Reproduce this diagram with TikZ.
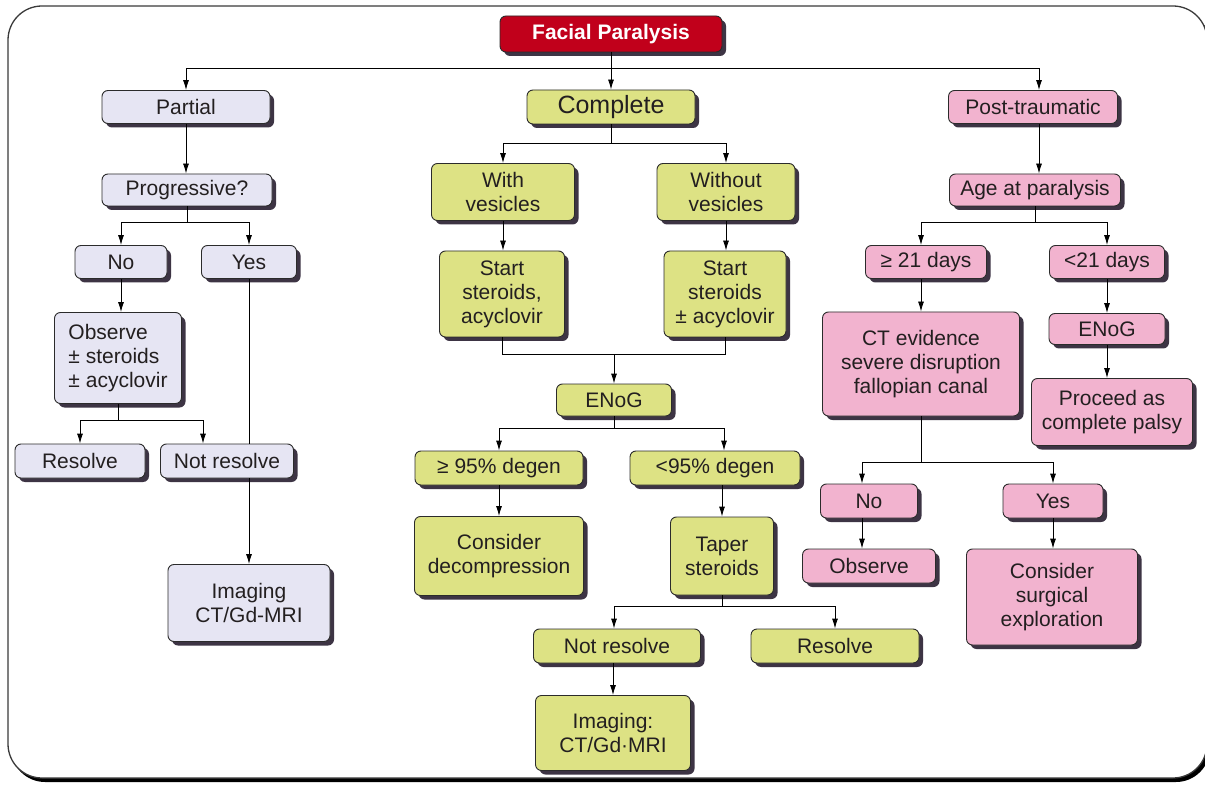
\documentclass[tikz,border=0pt]{standalone}
\usepackage{fontspec}
\setmainfont{Liberation Sans}
\usetikzlibrary{arrows.meta,shadows}

\definecolor{lavc}{HTML}{E6E5F3}
\definecolor{yelc}{HTML}{DDE284}
\definecolor{pnkc}{HTML}{F2B3CF}
\definecolor{redc}{HTML}{C1001B}
\definecolor{shadc}{HTML}{3D3444}
\definecolor{linec}{HTML}{2B2B2B}
\definecolor{textc}{HTML}{231F20}
\definecolor{framec}{HTML}{3A3A3A}

\tikzset{
    box/.style={draw=linec, line width=0.9pt, rounded corners=6pt, text=textc,
        align=center, inner sep=2pt, font=\fontsize{21}{24}\selectfont,
        drop shadow={shadow xshift=4pt, shadow yshift=-4pt, fill=shadc, opacity=1}},
    lav/.style={box, fill=lavc},
    yel/.style={box, fill=yelc},
    pnk/.style={box, fill=pnkc},
    sz/.style 2 args={minimum width=#1pt, minimum height=#2pt},
    arr/.style={-{Latex[length=10pt,width=6pt]}},
}

\begin{document}
\begin{tikzpicture}[x=1pt, y=-1pt, line width=0.9pt]
    \useasboundingbox (0,0) rectangle (1205,786);
    
    %frame
    \draw[draw=framec, line width=1.3pt, fill=white, rounded corners=34pt,
        drop shadow={shadow xshift=3pt, shadow yshift=-4pt, fill=black, opacity=1}]
        (8,6) rectangle (1207,778);
    
    %title
    \node[box, fill=redc, text=white, font=\bfseries\fontsize{21}{24}\selectfont, sz={222}{36}]
        (title) at (611,34) {Facial Paralysis};
    
    %partial
    \node[lav, sz={168}{33}] (partial) at (186,107) {Partial};
    \node[lav, sz={170}{32}] (prog) at (187,190) {Progressive?};
    \node[lav, sz={92}{33}] (pno) at (121,262) {No};
    \node[lav, sz={95}{33}] (pyes) at (249,262) {Yes};
    \node[lav, sz={127}{91}, align=left] (obs) at (118,358) {Observe\\± steroids\\± acyclovir};
    \node[lav, sz={130}{34}] (pres) at (80,461) {Resolve};
    \node[lav, sz={133}{34}] (pnot) at (227,461) {Not resolve};
    \node[lav, sz={162}{77}] (pimg) at (249,603) {Imaging\\CT/Gd-MRI};
    
    %complete
    \node[yel, sz={168}{34}, font=\fontsize{25}{28}\selectfont] (complete) at (611,107) {Complete};
    \node[yel, sz={143}{57}] (withv) at (503,192) {With\\vesicles};
    \node[yel, sz={138}{57}] (woutv) at (726,192) {Without\\vesicles};
    \node[yel, sz={125}{86}] (ss1) at (502,294) {Start\\steroids,\\acyclovir};
    \node[yel, sz={122}{86}] (ss2) at (725,294) {Start\\steroids\\± acyclovir};
    \node[yel, sz={115}{32}] (enog) at (614,400) {ENoG};
    \node[yel, sz={168}{34}] (deg1) at (499,468) {≥ 95\% degen};
    \node[yel, sz={170}{34}] (deg2) at (715,468) {<95\% degen};
    \node[yel, sz={169}{79}] (dec) at (499,556) {Consider\\decompression};
    \node[yel, sz={103}{78}] (taper) at (722,556) {Taper\\steroids};
    \node[yel, sz={167}{34}] (cnot) at (617,646) {Not resolve};
    \node[yel, sz={168}{34}] (cres) at (835,646) {Resolve};
    \node[yel, sz={155}{75}] (cimg) at (613,733) {Imaging:\\CT/Gd·MRI};
    
    %post-traumatic
    \node[pnk, sz={169}{33}] (post) at (1033,107) {Post-traumatic};
    \node[pnk, sz={171}{32}] (age) at (1035,190) {Age at paralysis};
    \node[pnk, sz={121}{33}] (d21a) at (926,262) {≥ 21 days};
    \node[pnk, sz={115}{33}] (d21b) at (1107,262) {<21 days};
    \node[pnk, sz={197}{104}] (ct) at (921,364) {CT evidence\\severe disruption\\fallopian canal};
    \node[pnk, sz={116}{31}] (enog2) at (1107,329) {ENoG};
    \node[pnk, sz={161}{67}] (proc) at (1112,412) {Proceed as\\complete palsy};
    \node[pnk, sz={97}{34}] (tno) at (869,501) {No};
    \node[pnk, sz={100}{34}] (tyes) at (1053,501) {Yes};
    \node[pnk, sz={133}{34}] (tobs) at (869,566) {Observe};
    \node[pnk, sz={171}{96}] (surg) at (1052,597) {Consider\\surgical\\exploration};
    
    %top split
    \coordinate (top) at (611,68);
    \draw[arr] (title) -- (complete);
    \draw[arr] (top) -| (partial);
    \draw[arr] (top) -| ([xshift=6pt]post.north);
    
    %straight drops
    \foreach \a/\b in {partial/prog, pno/obs, withv/ss1, woutv/ss2, deg1/dec,
                       d21b/enog2, enog2/proc, tyes/surg}
    {
        \draw[arr] (\a.south) -- (\a.south |- \b.north);
    }
    
    %partial branches
    \draw (prog.south) -- ++(0,16) coordinate (pj);
    \draw[arr] (pj) -| (pno);
    \draw[arr] (pj) -| (pyes);
    \draw (obs.south) -- ++(0,16) coordinate (oj);
    \draw[arr] (oj) -| (pres);
    \draw[arr] (oj) -| ([xshift=-24pt]pnot.north);
    \draw (pyes.south) -- (pyes.south |- pnot.north);
    \draw[arr] (pnot.south -| pyes) -- (pimg);
    
    %complete branches
    \draw (complete.south) -- ++(0,19) coordinate (cj);
    \draw[arr] (cj) -| (withv);
    \draw[arr] (cj) -| (woutv);
    \draw (ss1.south) -- ++(0,17) coordinate (sj) -- (sj -| ss2.south) -- (ss2.south);
    \draw[arr] (sj -| enog) -- (enog);
    \draw (enog.south) -- ++(0,12) coordinate (ej);
    \draw[arr] (ej) -| (deg1);
    \draw[arr] (ej) -| ([xshift=9pt]deg2.north);
    \draw[arr] (deg2.south -| taper) -- (taper);
    \draw (taper.south) -- ++(0,11) coordinate (tj);
    \draw[arr] (tj) -| ([xshift=-3pt]cnot.north);
    \draw[arr] (tj) -| (cres);
    \draw[arr] (cnot.south -| cimg) -- (cimg);
    
    %post-traumatic branches
    \coordinate (pt) at ([xshift=6pt]post.south);
    \draw[arr] (pt) -- (pt |- age.north);
    \draw (age.south) -- ++(0,16) coordinate (aj);
    \draw[arr] (aj) -| ([xshift=-5pt]d21a.north);
    \draw[arr] (aj) -| (d21b);
    \draw[arr] (d21a.south -| ct) -- (ct);
    \draw (ct.south) -- ++(0,46) coordinate (xj);
    \draw[arr] (xj) -| ([xshift=-7pt]tno.north);
    \draw[arr] (xj) -| (tyes);
    \draw[arr] ([xshift=-7pt]tno.south) -- ([xshift=-7pt]tobs.north);
\end{tikzpicture}
\end{document}
